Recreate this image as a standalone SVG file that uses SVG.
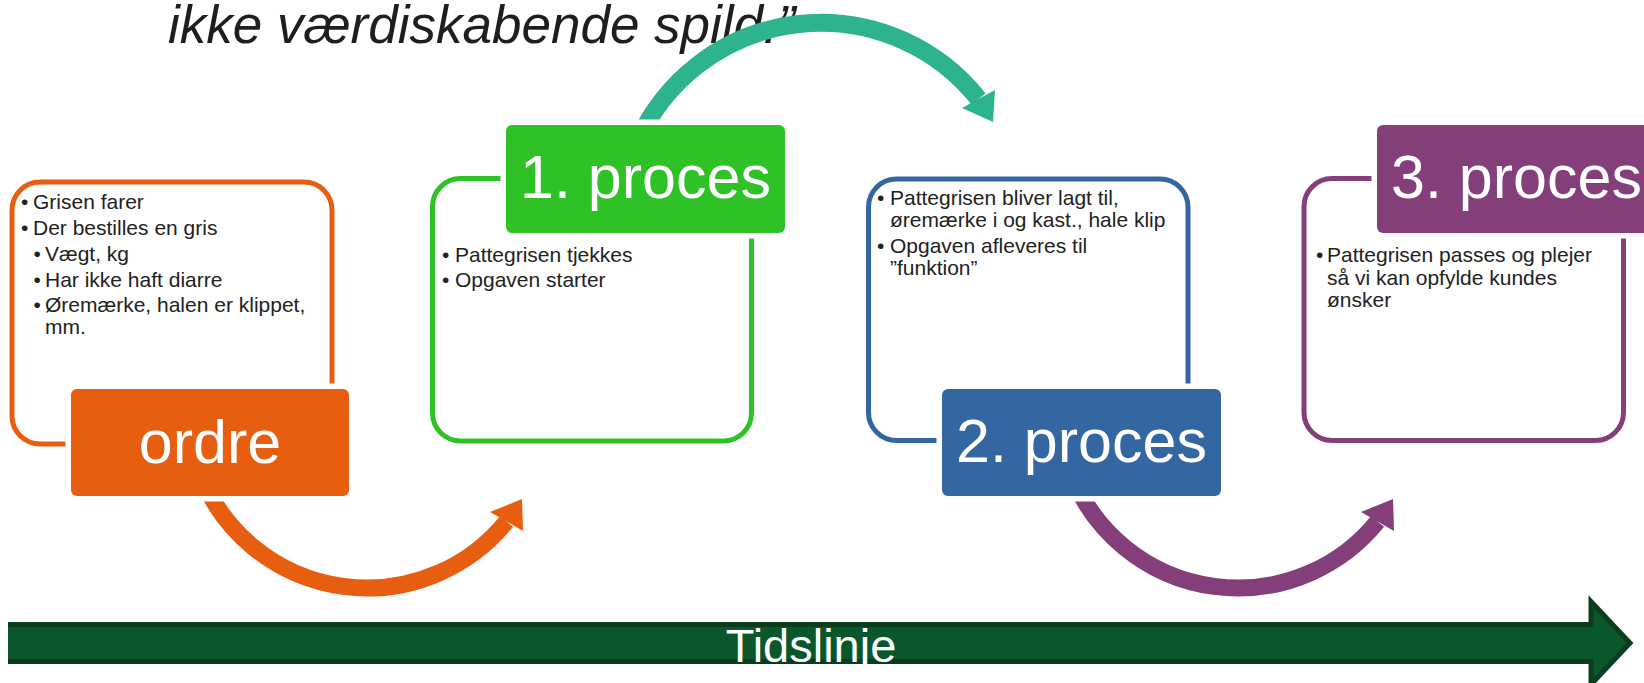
<svg xmlns="http://www.w3.org/2000/svg" width="1644" height="683" viewBox="0 0 1644 683">
<style>
  .frame { fill: #ffffff; stroke-width: 5; }
  .halo { fill: #ffffff; stroke: #ffffff; stroke-width: 11; }
  .label { font-family: "Liberation Sans", Arial, sans-serif; font-size: 61px; fill: #ffffff; text-anchor: middle; }
  .bul { font-family: "Liberation Sans", Arial, sans-serif; font-size: 21px; fill: #222222; }
  .head { font-family: "Liberation Sans", Arial, sans-serif; font-size: 53px; font-style: italic; fill: #1e1e1e; }
  .arc { fill: none; stroke-linecap: butt; }
</style>
<rect width="1644" height="683" fill="#ffffff"/>

<text class="head" x="168" y="43">ikke værdiskabende spild.”</text>

<!-- frames -->
<g id="frame-ordre">
  <rect class="frame" x="12" y="182" width="320" height="262" rx="28" stroke="#E85E10"/>
  <text class="bul" x="21" y="209">•</text><text class="bul" x="33" y="209">Grisen farer</text>
  <text class="bul" x="21" y="235">•</text><text class="bul" x="33" y="235">Der bestilles en gris</text>
  <text class="bul" x="33.5" y="261">•</text><text class="bul" x="45" y="261">Vægt, kg</text>
  <text class="bul" x="33.5" y="287">•</text><text class="bul" x="45" y="287">Har ikke haft diarre</text>
  <text class="bul" x="33.5" y="312">•</text><text class="bul" x="45" y="312">Øremærke, halen er klippet,</text>
  <text class="bul" x="45" y="334">mm.</text>
</g>
<g id="frame-proces1">
  <rect class="frame" x="432.5" y="178.5" width="319" height="262.5" rx="28" stroke="#2FC226"/>
  <text class="bul" x="442" y="262">•</text><text class="bul" x="455" y="262">Pattegrisen tjekkes</text>
  <text class="bul" x="442" y="287">•</text><text class="bul" x="455" y="287">Opgaven starter</text>
</g>
<g id="frame-proces2">
  <rect class="frame" x="868.5" y="179" width="319.5" height="261.5" rx="28" stroke="#3467A1"/>
  <text class="bul" x="877" y="205">•</text><text class="bul" x="890" y="205">Pattegrisen bliver lagt til,</text>
  <text class="bul" x="890" y="227">øremærke i og kast., hale klip</text>
  <text class="bul" x="877" y="253">•</text><text class="bul" x="890" y="253">Opgaven afleveres til</text>
  <text class="bul" x="890" y="275">”funktion”</text>
</g>
<g id="frame-proces3">
  <rect class="frame" x="1304" y="178.5" width="319.5" height="262" rx="28" stroke="#843F7A"/>
  <text class="bul" x="1316" y="262">•</text><text class="bul" x="1327" y="262">Pattegrisen passes og plejer</text>
  <text class="bul" x="1327" y="285">så vi kan opfylde kundes</text>
  <text class="bul" x="1327" y="307">ønsker</text>
</g>

<!-- connectors -->
<g id="connectors">
  <g id="arrow-ordre-proces1">
    <path class="arc" d="M202.7,480 A179.2,179.2 0 0 0 506.5,521.5" stroke="#E85E10" stroke-width="17"/>
    <polygon points="490,512 522,499 523,531" fill="#E85E10"/>
  </g>
  <g id="arrow-proces1-proces2">
    <path class="arc" d="M638.2,140 A201.1,201.1 0 0 1 978.5,99" stroke="#2DB38D" stroke-width="18"/>
    <polygon points="962,108 995,90 993,122" fill="#2DB38D"/>
  </g>
  <g id="arrow-proces2-proces3" transform="translate(871,0)">
    <path class="arc" d="M202.7,480 A179.2,179.2 0 0 0 506.5,521.5" stroke="#843F7A" stroke-width="17"/>
    <polygon points="490,512 522,499 523,531" fill="#843F7A"/>
  </g>
</g>

<!-- label boxes -->
<g id="node-ordre">
  <rect class="halo" x="71" y="389" width="278" height="107" rx="6"/>
  <rect x="71" y="389" width="278" height="107" rx="6" fill="#E85E10"/>
  <text class="label" x="210" y="463">ordre</text>
</g>
<g id="node-proces1">
  <rect class="halo" x="506" y="125" width="279" height="108" rx="6"/>
  <rect x="506" y="125" width="279" height="108" rx="6" fill="#2FC226"/>
  <text class="label" x="645.5" y="198">1. proces</text>
</g>
<g id="node-proces2">
  <rect class="halo" x="942" y="389" width="279" height="107" rx="6"/>
  <rect x="942" y="389" width="279" height="107" rx="6" fill="#3467A1"/>
  <text class="label" x="1081.5" y="462">2. proces</text>
</g>
<g id="node-proces3">
  <rect class="halo" x="1377" y="125" width="279" height="108" rx="6"/>
  <rect x="1377" y="125" width="279" height="108" rx="6" fill="#843F7A"/>
  <text class="label" x="1516.5" y="198">3. proces</text>
</g>

<!-- timeline -->
<g id="timeline">
  <polygon points="8,622 1591,622 1591,601.5 1630,643 1591,684.5 1591,664 8,664" fill="#0B572C"/>
  <polyline points="8,624.5 1591,624.5 1591,601.5 1630,643 1591,684.5 1591,661.5 8,661.5" fill="none" stroke="#0A3D1D" stroke-width="5"/>
  <text x="811" y="662" font-family="Liberation Sans, Arial, sans-serif" font-size="47" fill="#ffffff" text-anchor="middle">Tidslinje</text>
</g>
</svg>
